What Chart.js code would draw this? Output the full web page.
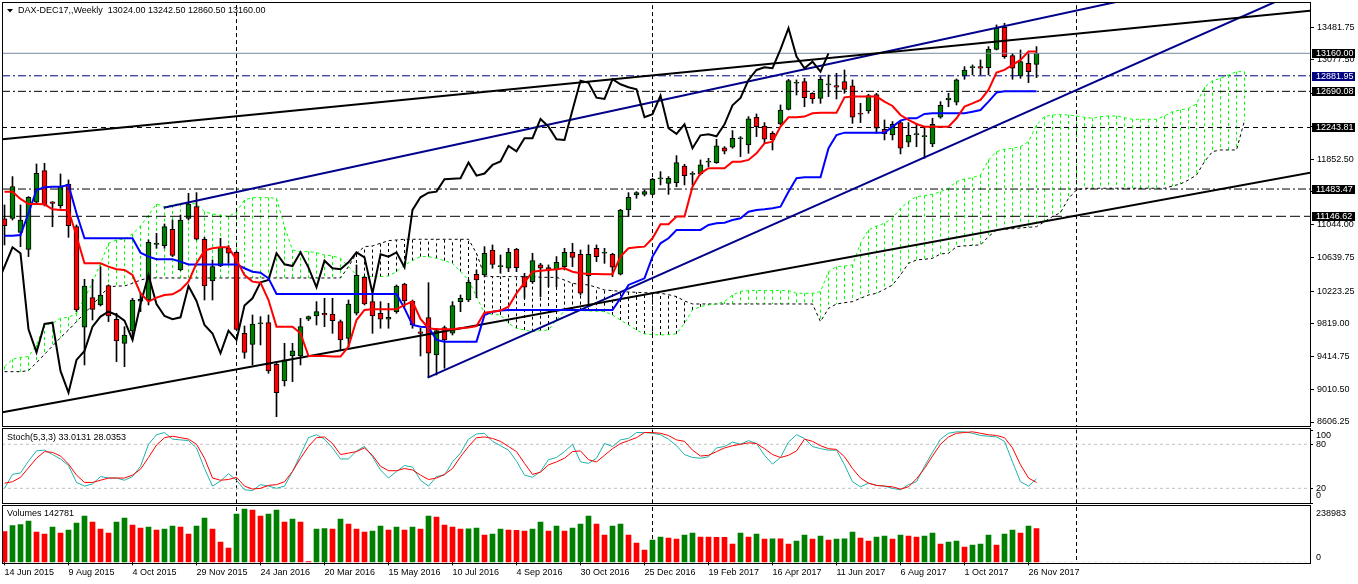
<!DOCTYPE html>
<html>
<head>
<meta charset="utf-8">
<title>DAX-DEC17 Weekly</title>
<script src="https://cdn.jsdelivr.net/npm/chart.js@4.4.1/dist/chart.umd.min.js"></script>
<style>
  html, body { margin:0; padding:0; background:#ffffff; overflow:hidden; }
  #wrap { position:relative; width:1358px; height:584px; background:#fff; }
  #wrap canvas { position:absolute; left:0; }
</style>
</head>
<body>
<div id="wrap">
  <canvas id="cMain" width="1358" height="428" style="top:0px;width:1358px;height:428px"></canvas>
  <canvas id="cStoch" width="1358" height="77" style="top:428px;width:1358px;height:77px"></canvas>
  <canvas id="cVol" width="1358" height="80" style="top:504px;width:1358px;height:80px"></canvas>
</div>
<script>
// ================= DATA =================
const chartTitle = 'DAX-DEC17,,Weekly';

const dateLabels = ['14 Jun 2015','9 Aug 2015','4 Oct 2015','29 Nov 2015','24 Jan 2016','20 Mar 2016',
  '15 May 2016','10 Jul 2016','4 Sep 2016','30 Oct 2016','25 Dec 2016','19 Feb 2017','16 Apr 2017',
  '11 Jun 2017','6 Aug 2017','1 Oct 2017','26 Nov 2017'];
const dateTickBars = [0,8,16,24,32,40,48,56,64,72,80,88,96,104,112,120,128];
const yearStartBars = [29, 81, 134];

const opens = [
 11114,11122,10949,10739,11320,11711,11324,11279,11542,11019,
 9776,10142,10052,10290,9875,9578,9731,10100,10113,10800,
 10785,10986,10484,11122,11266,10863,10348,10533,10752,10702,
 9702,9566,9820,9834,9319,9113,9426,9422,9875,9916,
 9949,9940,9846,9640,9949,10393,10093,9949,9875,9969,
 10311,10101,9720,9895,9435,9772,9702,10093,10113,10431,
 10422,10731,10525,10505,10739,10402,10340,10546,10513,10484,
 10525,10702,10677,10410,10752,10690,10677,10431,11225,11410,
 11418,11418,11608,11554,11563,11768,11665,11670,11815,11810,
 11991,11999,12105,12028,12370,12262,12172,12287,12468,12790,
 12810,12666,12604,12769,12761,12810,12757,12411,12448,12649,
 12221,12151,12304,12061,12155,12131,12040,12370,12584,12555,
 12880,12983,12995,12983,13209,13481,13131,12880,13036,13024];
const highs = [
 11287,11637,11287,11390,11793,11801,11328,11670,11596,11040,
 10369,10369,10525,10300,9949,9784,10134,10196,10855,10937,
 11052,11101,11163,11431,11439,10887,10608,10875,10785,10710,
 9792,9928,9908,9928,9352,9578,9578,9887,9916,10093,
 10134,10134,9866,10113,10546,10402,10196,10093,10072,10299,
 10320,10113,9764,10327,9764,9792,10093,10175,10360,10484,
 10772,10793,10669,10752,10752,10443,10690,10566,10546,10649,
 10752,10813,10731,10793,10793,10752,10690,11233,11439,11451,
 11472,11616,11698,11637,11896,11789,11698,11843,11863,12098,
 12007,12205,12131,12378,12411,12304,12193,12522,12839,12831,
 12851,12674,12872,12892,12913,12954,12831,12542,12654,12666,
 12337,12316,12328,12304,12295,12254,12357,12563,12666,12843,
 12995,13016,13078,13242,13510,13531,13160,13201,13160,13242.5];
const lows = [
 10793,11101,10772,10649,11307,11275,11019,11246,10887,9969,
 9311,9866,10039,9846,9352,9290,9628,9969,10052,10752,
 10752,10649,10476,11101,10855,10113,10113,10525,10566,9743,
 9393,9311,9558,9208,8672,9051,9105,9311,9858,9805,
 9784,9702,9496,9537,9928,10052,9702,9764,9764,9949,
 10031,9764,9422,9154,9187,9270,9681,9969,10093,10142,
 10402,10505,10443,10463,10463,10134,10319,10155,10278,10278,
 10484,10525,10175,10052,10587,10566,10402,10422,11143,11369,
 11398,11410,11534,11418,11513,11534,11534,11657,11760,11801,
 11917,11987,11884,11925,12131,12048,11966,12275,12460,12645,
 12501,12542,12542,12625,12596,12666,12295,12304,12419,12172,
 12090,12090,11917,12007,12007,11863,12007,12357,12501,12522,
 12839,12892,12892,12892,13201,13098,12839,12851,12798,12860.5];
const closes = [
 11031,11513,11101,11382,11678,11287,11307,11513,11031,9990,
 10286,9998,10175,9916,9607,9681,10113,10120,10826,10815,
 11019,10665,11101,11299,10863,10286,10525,10764,10690,9751,
 9467,9817,9832,9237,8969,9373,9484,9784,9908,9969,
 9928,9858,9620,10064,10418,10064,9916,9875,9899,10286,
 10101,9805,9700,9455,9735,9620,10044,10134,10332,10360,
 10690,10554,10533,10702,10513,10270,10599,10505,10492,10579,
 10702,10640,10196,10677,10649,10702,10517,11225,11381,11439,
 11451,11604,11612,11616,11810,11649,11675,11781,11825,12016,
 11950,12110,12112,12349,12254,12098,12090,12460,12822,12795,
 12612,12596,12839,12777,12740,12715,12370,12407,12637,12234,
 12164,12283,11987,12147,12160,12135,12283,12518,12608,12831,
 12954,12987,12975,13209,13469,13119,12975,13057,12933,13160];

const volumes = [
 130088,155540,159782,175336,128674,120190,149884,124432,137158,166852,
 196546,171094,141400,124432,171094,188062,158368,145642,149884,137158,
 141400,154126,149884,120190,154126,188062,141400,86254,60802,205030,
 226240,221998,196546,205030,221998,171094,183820,171094,2828,141400,
 142800,141000,183820,162610,141400,128674,132916,154126,137158,149884,
 137158,149884,141400,196546,192304,158368,149884,141400,142500,145642,
 115948,120190,141400,137158,136000,132916,141400,171094,132916,154126,
 132916,145642,162610,196546,162610,115948,154126,162610,115948,82012,
 52318,94738,107464,103222,98980,115948,124432,107464,106800,106200,
 105600,77770,124432,107464,120190,98980,99800,99200,77770,90496,
 115948,98980,111706,94738,98980,99800,128674,103222,90496,107464,
 111706,98980,115948,111706,107464,111706,124432,77770,86254,90496,
 65044,73528,77770,115948,73528,120190,137158,124432,154126,142781];
const volumeMax = 238983;

// Ichimoku lines
const tenkan = [
 11451,11451,11361,11299,11299,11295,11233,11225,11225,10900,
 10566,10566,10566,10525,10492,10484,10422,10196,10093,10142,
 10175,10183,10237,10340,10566,10723,10752,10764,10764,10608,
 10422,10340,10327,10113,9784,9784,9784,9702,9422,9422,
 9422,9414,9414,9537,9866,9990,9998,9998,9998,9998,
 10052,10093,9880,9764,9751,9751,9751,9764,9772,9792,
 9957,9969,9982,10031,10196,10327,10463,10475,10484,10492,
 10505,10463,10443,10435,10435,10431,10431,10649,10752,10764,
 10772,10875,11048,11048,11143,11143,11513,11678,11740,11740,
 11740,11822,11822,11843,11925,12048,12069,12254,12370,12370,
 12378,12419,12427,12427,12427,12616,12625,12625,12625,12625,
 12563,12509,12398,12337,12287,12254,12254,12254,12254,12357,
 12501,12542,12584,12707,12921,12954,13016,13078,13181,13181];
const kijun = [
 10908,10908,10916,11184,11472,11505,11513,11513,11534,11184,
 10875,10875,10875,10875,10875,10875,10875,10698,10649,10616,
 10616,10616,10587,10553,10553,10553,10553,10553,10553,10553,
 10505,10463,10451,10381,10187,10187,10187,10187,10187,10187,
 10187,10187,10187,10187,10187,10187,10187,10187,10187,10187,
 10010,9805,9784,9776,9620,9599,9599,9599,9599,9599,
 9928,9969,9982,9990,9990,9990,9990,9990,9990,9990,
 9990,9990,9990,9990,9990,9990,9990,10134,10299,10340,
 10381,10649,10813,10875,10978,10978,10978,10978,11040,11060,
 11068,11101,11122,11204,11225,11233,11246,11266,11451,11616,
 11628,11628,11628,11987,12151,12180,12180,12180,12180,12180,
 12180,12254,12328,12357,12357,12411,12419,12419,12419,12419,
 12419,12439,12460,12563,12674,12690,12690,12690,12690,12690];
const chikouShift = 26;
const senkouA = [
 9290,9381,9405,9414,9558,9805,9825,9887,9899,9949,
 10134,10327,10566,10813,10855,10863,10929,11027,11163,11299,
 11266,11287,11307,11307,11299,11204,11176,11163,11143,11204,
 11349,11377,11377,11377,11369,11019,10731,10711,10711,10698,
 10669,10657,10628,10525,10422,10402,10402,10402,10410,10463,
 10546,10599,10649,10649,10628,10599,10566,10463,10360,10155,
 9949,9936,9928,9825,9764,9743,9722,9735,9743,9866,
 9982,9982,9982,9978,9974,9969,9928,9866,9805,9743,
 9694,9685,9681,9685,9694,9825,9990,10031,10052,10064,
 10093,10175,10220,10229,10229,10229,10229,10229,10229,10196,
 10196,10196,10216,10463,10525,10533,10546,10813,10978,11027,
 11060,11122,11246,11328,11390,11402,11418,11451,11493,11575,
 11608,11624,11657,11843,11946,11974,11987,12007,12069,12275,
 12378,12398,12402,12398,12386,12370,12357,12378,12386,12386,
 12365,12345,12345,12345,12345,12386,12439,12460,12481,12534,
 12740,12822,12851,12892,12933,12933];
const senkouB = [
 9228,9228,9228,9241,9339,9442,9545,9648,9743,9846,
 9949,10052,10163,10270,10286,10286,10319,10360,10385,10385,
 10385,10385,10385,10385,10385,10385,10385,10385,10385,10385,
 10385,10385,10385,10385,10385,10385,10385,10385,10385,10385,
 10385,10385,10385,10525,10690,10772,10781,10813,10846,10855,
 10863,10863,10863,10863,10863,10863,10863,10863,10863,10690,
 10410,10402,10402,10402,10402,10402,10402,10393,10393,10393,
 10360,10319,10307,10299,10270,10237,10229,10220,10212,10208,
 10204,10200,10196,10179,10155,10101,10064,10064,10064,10064,
 10064,10064,10064,10064,10064,10064,10064,10064,10064,10064,
 10064,10064,9846,10010,10064,10080,10093,10134,10175,10196,
 10245,10299,10422,10566,10608,10616,10628,10682,10690,10772,
 10781,10789,10793,10896,10978,10986,10994,11003,11011,11019,
 11081,11143,11192,11369,11472,11493,11493,11493,11493,11493,
 11493,11493,11493,11493,11493,11493,11521,11546,11596,11657,
 11822,11946,11966,11966,11966,12328];

// Stochastic (5,3,3)
const stochK = [
 20,39,41,57,71,72,66,60,51,28, 23,26,36,34,34,31,36,50,80,93,
 96,87,86,85,75,47,23,30,40,31, 18,17,25,23,20,23,43,66,89,93,
 87,75,60,60,71,77,63,45,34,43, 51,49,31,23,36,38,56,68,87,94,
 95,84,78,72,57,38,35,43,59,62, 70,80,56,54,61,81,77,86,88,96,
 96,95,93,87,78,66,62,61,63,75, 77,83,80,85,81,65,53,62,83,93,
 88,77,74,72,72,52,29,22,27,24, 23,20,18,25,29,50,69,87,95,97,
 97,95,92,91,90,84,56,29,23,33.0131];
const stochD = [
 27,29,35,48,61,70,69,64,53,38, 28,28,31,34,34,34,38,46,62,79,
 89,91,89,87,80,61,34,31,32,35, 23,19,20,24,25,29,43,61,77,89,
 90,81,66,68,70,75,65,50,44,44, 47,45,38,32,34,39,47,63,77,89,
 90,88,84,77,70,54,39,42,52,56, 61,70,71,59,56,65,74,81,85,89,
 96,96,95,92,86,84,72,64,65,70, 75,78,80,82,81,74,66,62,65,71,
 87,84,78,74,73,63,47,34,27,24, 23,22,19,22,33,47,64,80,90,95,
 96,97,95,93,92,89,75,52,34,28.0353];
const stochLevels = [20, 80];
const stochAxisLabels = [100, 80, 20, 0];

// price axis tick labels and drawn levels
const priceTicks = [8606.25, 9010.50, 9414.75, 9819.00, 10223.25, 10639.75, 11044.00,
  11448.25, 11852.50, 12256.75, 12661.00, 13077.50, 13481.75];
const levels = [13160.00, 12881.95, 12690.08, 12243.81, 11483.47, 11146.62];

// trend lines: [bar, price] anchors
const trendUpperBlack = [[-0.25, 12098], [163.25, 13686]];
const trendLowerBlack = [[-0.25, 8726], [163.25, 11685]];
const trendUpperNavy  = [[19.9, 11253], [140.75, 13832]];
const trendLowerNavy  = [[52.9, 9154], [160.75, 13878]];

// ================= DRAWING =================
const FONT = "'Liberation Sans', Arial, sans-serif";
Chart.defaults.font.family = FONT;
Chart.defaults.font.size = 9;
Chart.defaults.color = '#000';

const X_MIN = -0.3125, X_MAX = 163.1875;
const GREEN = '#008000', RED = '#ff0000', LIME = '#00ff00', NAVY = '#00008b', BLUE = '#0000ff', TEAL = '#20b2aa';

const P = (arr, shift) => arr.map((v, i) => ({ x: i + (shift || 0), y: v }));
const seg = pair => pair.map(p => ({ x: p[0], y: p[1] }));
const hLine = v => [{ x: X_MIN, y: v }, { x: X_MAX, y: v }];
const vLines = (bars, lo, hi) => {
  const out = [];
  bars.forEach(b => out.push({ x: b, y: lo }, { x: b, y: hi }, { x: b, y: null }));
  return out;
};
function lineDS(data, color, width, dash, order, extra) {
  return Object.assign({
    type: 'line', data, borderColor: color, backgroundColor: color, borderWidth: width,
    borderDash: dash || [], pointRadius: 0, pointHoverRadius: 0, tension: 0, fill: false,
    spanGaps: false, order
  }, extra || {});
}
const baseOpts = {
  responsive: false, maintainAspectRatio: false, animation: false, events: [],
  plugins: { legend: { display: false }, tooltip: { enabled: false }, title: { display: false } }
};

// ---------- main pane ----------
const levelStyles = [
  { line: '#778899', dash: [], box: '#000000' },
  { line: '#000080', dash: [8, 3, 2, 3], box: '#000080' },
  { line: '#000000', dash: [8, 3, 2, 3], box: '#000000' },
  { line: '#000000', dash: [5, 4], box: '#000000' },
  { line: '#000000', dash: [8, 3, 2, 3], box: '#000000' },
  { line: '#000000', dash: [10, 4], box: '#000000' }
];

const hatch = [];
senkouA.forEach((a, i) => { hatch.push({ x: i, y: a }, { x: i, y: senkouB[i] }, { x: i, y: null }); });

const wicks = lows.map((l, i) => ({ x: i, y: [l, highs[i]] }));
const bodies = opens.map((o, i) => ({ x: i, y: [o, closes[i]] }));
const bodyColors = opens.map((o, i) => (closes[i] >= o ? GREEN : RED));

const mainDecor = {
  id: 'mainDecor',
  afterDraw(chart) {
    const { ctx, chartArea: ca } = chart;
    const y = chart.scales.y;
    ctx.save();
    ctx.strokeStyle = '#000'; ctx.lineWidth = 1;
    ctx.strokeRect(ca.left + 0.5, 2.5, ca.right - ca.left, 424);
    // header
    ctx.fillStyle = '#000';
    ctx.beginPath(); ctx.moveTo(7, 9); ctx.lineTo(13, 9); ctx.lineTo(10, 12.5); ctx.closePath(); ctx.fill();
    ctx.font = '9px ' + FONT; ctx.textBaseline = 'middle'; ctx.textAlign = 'left';
    const n = closes.length - 1;
    ctx.fillText(chartTitle + '  ' + [opens[n], highs[n], lows[n], closes[n]].map(v => v.toFixed(2)).join(' '), 18, 11);
    // level labels
    levels.forEach((v, k) => {
      const py = Math.round(y.getPixelForValue(v));
      ctx.fillStyle = levelStyles[k].box;
      ctx.fillRect(1312, py - 4, 43, 9);
      ctx.fillStyle = '#fff';
      ctx.fillText(v.toFixed(2), 1316, py + 0.5);
    });
    ctx.restore();
  }
};

new Chart(document.getElementById('cMain'), {
  type: 'bar',
  data: {
    datasets: [
      lineDS(hatch, LIME, 1, [3, 3], 30, { segment: { borderColor: c => (c.p0.parsed.y >= c.p1.parsed.y ? LIME : '#000') } }),
      lineDS(P(senkouA), LIME, 1, [3, 3], 29),
      lineDS(P(senkouB), '#000', 1, [3, 3], 29),
      lineDS(vLines(yearStartBars, 8000, 14500), '#000', 1, [4, 3], 28),
      { type: 'bar', data: wicks, backgroundColor: '#000', borderWidth: 0, barThickness: 1, grouped: false, order: 21 },
      { type: 'bar', data: bodies, backgroundColor: bodyColors, borderColor: '#000', borderWidth: 1,
        borderSkipped: false, barThickness: 5, minBarLength: 1, grouped: false, order: 20 },
      ...levels.map((v, k) => lineDS(hLine(v), levelStyles[k].line, 1, levelStyles[k].dash, 15)),
      lineDS(seg(trendUpperBlack), '#000', 2, [], 10),
      lineDS(seg(trendLowerBlack), '#000', 2, [], 10),
      lineDS(seg(trendUpperNavy), NAVY, 2, [], 10),
      lineDS(seg(trendLowerNavy), NAVY, 2, [], 10),
      lineDS(P(closes, -chikouShift), '#000', 2, [], 5),
      lineDS(P(kijun), BLUE, 2, [], 4),
      lineDS(P(tenkan), RED, 2, [], 3)
    ]
  },
  options: Object.assign({}, baseOpts, {
    layout: { padding: { left: 2, top: 3, right: 0, bottom: 2 } },
    scales: {
      x: { type: 'linear', min: X_MIN, max: X_MAX, offset: false, display: false, grid: { display: false, offset: false } },
      y: {
        type: 'linear', position: 'right', min: 8557, max: 13781,
        afterFit(s) { s.width = 48; s.paddingTop = 0; s.paddingBottom = 0; },
        afterBuildTicks(s) { s.ticks = priceTicks.map(v => ({ value: v })); },
        ticks: { autoSkip: false, padding: 3, color: '#000', font: { size: 9, family: FONT }, callback: v => Number(v).toFixed(2) },
        grid: { display: true, drawOnChartArea: false, drawTicks: true, tickLength: 4, color: '#000' },
        border: { display: true, color: '#000' }
      }
    }
  }),
  plugins: [mainDecor]
});

// ---------- stochastic pane ----------
const stochDecor = {
  id: 'stochDecor',
  afterDraw(chart) {
    const { ctx, chartArea: ca } = chart;
    const y = chart.scales.y;
    ctx.save();
    ctx.strokeStyle = '#000'; ctx.lineWidth = 1;
    ctx.strokeRect(ca.left + 0.5, 0.5, ca.right - ca.left, 75);
    ctx.fillStyle = '#000'; ctx.font = '9px ' + FONT; ctx.textBaseline = 'middle'; ctx.textAlign = 'left';
    const n = stochK.length - 1;
    ctx.fillText('Stoch(5,3,3) ' + stochK[n].toFixed(4) + ' ' + stochD[n].toFixed(4), 7, 10);
    stochAxisLabels.forEach(v => {
      const py = y.getPixelForValue(v);
      const ty = v >= 100 ? py + 6 : (v <= 0 ? py - 7 : py);
      ctx.fillText(String(v), 1316, ty);
      ctx.beginPath(); ctx.moveTo(1310, Math.round(py) + 0.5); ctx.lineTo(1313, Math.round(py) + 0.5); ctx.stroke();
    });
    ctx.restore();
  }
};

new Chart(document.getElementById('cStoch'), {
  type: 'line',
  data: {
    datasets: [
      lineDS(vLines(yearStartBars, -10, 110), '#000', 1, [4, 3], 10),
      ...stochLevels.map(v => lineDS(hLine(v), '#c0c0c0', 1, [3, 3], 9)),
      lineDS(P(stochK), TEAL, 1, [], 2),
      lineDS(P(stochD), RED, 1, [], 1)
    ]
  },
  options: Object.assign({}, baseOpts, {
    layout: { padding: { left: 2, top: 1.6, right: 48, bottom: 2 } },
    scales: {
      x: { type: 'linear', min: X_MIN, max: X_MAX, offset: false, display: false },
      y: { type: 'linear', min: 0, max: 100, display: false }
    }
  }),
  plugins: [stochDecor]
});

// ---------- volume pane ----------
const volColors = volumes.map((v, i) => (i > 0 && v > volumes[i - 1] ? GREEN : RED));
const volDecor = {
  id: 'volDecor',
  afterDraw(chart) {
    const { ctx, chartArea: ca } = chart;
    const y = chart.scales.y;
    ctx.save();
    ctx.strokeStyle = '#000'; ctx.lineWidth = 1;
    ctx.strokeRect(ca.left + 0.5, 1.5, ca.right - ca.left, 58);
    ctx.fillStyle = '#000'; ctx.font = '9px ' + FONT; ctx.textBaseline = 'middle'; ctx.textAlign = 'left';
    ctx.fillText('Volumes ' + volumes[volumes.length - 1], 7, 10);
    ctx.fillText(String(volumeMax), 1316, y.getPixelForValue(volumeMax) + 8);
    ctx.fillText('0', 1316, y.getPixelForValue(0) - 4.5);
    ctx.restore();
  }
};

new Chart(document.getElementById('cVol'), {
  type: 'bar',
  data: {
    datasets: [
      lineDS(vLines(yearStartBars, -20000, 300000), '#000', 1, [4, 3], 10),
      lineDS(hLine(0), '#c0c0c0', 1, [3, 3], 9),
      { type: 'bar', data: P(volumes), backgroundColor: volColors, borderWidth: 0, barThickness: 5, grouped: false, order: 5 }
    ]
  },
  options: Object.assign({}, baseOpts, {
    layout: { padding: { left: 2, top: 2, right: 48, bottom: 0 } },
    scales: {
      x: {
        type: 'linear', position: 'bottom', min: X_MIN, max: X_MAX, offset: false,
        afterBuildTicks(s) { s.ticks = dateTickBars.map(v => ({ value: v })); },
        afterFit(s) { s.height = 21.7; s.paddingLeft = 0; s.paddingRight = 0; },
        ticks: { autoSkip: false, maxRotation: 0, minRotation: 0, align: 'start', padding: 2, color: '#000',
          font: { size: 9, family: FONT }, callback: (v, i) => dateLabels[i] },
        grid: { display: true, drawOnChartArea: false, drawTicks: true, tickLength: 3, color: '#000', offset: false },
        border: { display: false }
      },
      y: { type: 'linear', min: 0, max: volumeMax, display: false }
    }
  }),
  plugins: [volDecor]
});
</script>
</body>
</html>
